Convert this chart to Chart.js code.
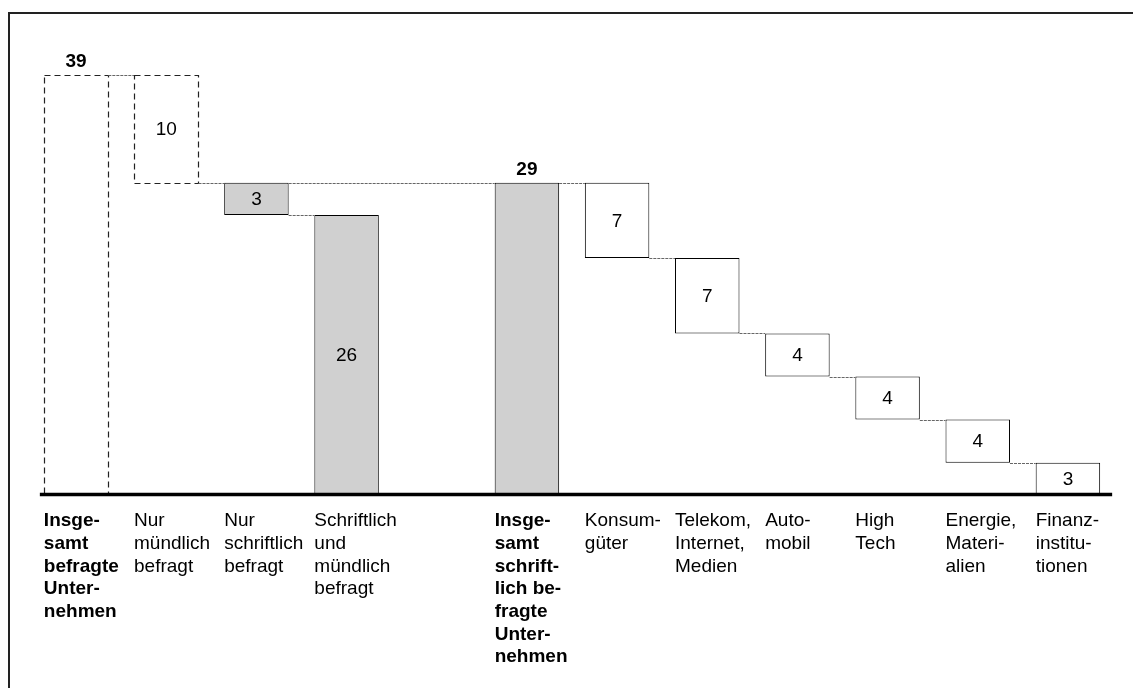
<!DOCTYPE html>
<html>
<head>
<meta charset="utf-8">
<script src="https://cdn.jsdelivr.net/npm/chart.js@4.4.1/dist/chart.umd.min.js"></script>
<style>
  html, body { margin: 0; padding: 0; background: #fff; }
  #wrap { position: relative; width: 1133px; height: 688px; overflow: hidden; }
  #frame { position: absolute; left: 8px; top: 12px; right: -10px; bottom: -10px;
           border-left: 2px solid #222; border-top: 2px solid #222; }
  canvas { position: absolute; left: 0; top: 0; }
</style>
</head>
<body>
<div id="wrap">
  <div id="frame"></div>
  <canvas id="c" width="1133" height="688"></canvas>
</div>
<script>
// Category labels (one entry per line of text)
const categories = [
  ["Insge-", "samt", "befragte", "Unter-", "nehmen"],
  ["Nur", "mündlich", "befragt"],
  ["Nur", "schriftlich", "befragt"],
  ["Schriftlich", "und", "mündlich", "befragt"],
  [],
  ["Insge-", "samt", "schrift-", "lich be-", "fragte", "Unter-", "nehmen"],
  ["Konsum-", "güter"],
  ["Telekom,", "Internet,", "Medien"],
  ["Auto-", "mobil"],
  ["High", "Tech"],
  ["Energie,", "Materi-", "alien"],
  ["Finanz-", "institu-", "tionen"]
];

// Number of companies per step
const values = [39, 10, 3, 26, null, 29, 7, 7, 4, 4, 4, 3];

// 'total' bars stand on the baseline, 'down' bars hang from the running level
const barKinds = ["total", "down", "down", "down", null, "total",
                  "down", "down", "down", "down", "down", "down"];

// Floating [low, high] ranges for the waterfall
let level = 0;
const ranges = values.map((v, i) => {
  if (v == null) return null;
  if (barKinds[i] === "total") { level = v; return [0, v]; }
  const r = [level - v, level];
  level -= v;
  return r;
});

const dashedBars = new Set([0, 1]);
const grayBars = new Set([2, 3, 5]);
const FONT = '"Liberation Sans", Arial, Helvetica, sans-serif';

function barBox(el) {
  const p = el.getProps(["x", "y", "base", "width"], true);
  return {
    left: p.x - p.width / 2, right: p.x + p.width / 2,
    top: Math.min(p.y, p.base), bottom: Math.max(p.y, p.base), cx: p.x, width: p.width
  };
}

const waterfallDecor = {
  id: "waterfallDecor",
  afterDatasetsDraw(chart) {
    const ctx = chart.ctx;
    const meta = chart.getDatasetMeta(0);
    const yScale = chart.scales.y;
    const xScale = chart.scales.x;
    const zero = yScale.getPixelForValue(0);
    const present = values.map((v, i) => v == null ? -1 : i).filter(i => i >= 0);
    const boxes = {};
    present.forEach(i => { boxes[i] = barBox(meta.data[i]); });
    const bw = boxes[present[0]].width;

    ctx.save();

    // dashed outlines
    ctx.strokeStyle = "#222";
    ctx.lineWidth = 1.2;
    ctx.setLineDash([6, 4]);
    dashedBars.forEach(i => {
      const b = boxes[i];
      ctx.strokeRect(Math.round(b.left) + 0.5, Math.round(b.top) + 0.5,
                     Math.round(b.right - b.left), Math.round(b.bottom - b.top));
    });

    // dotted connectors between bars
    ctx.strokeStyle = "#666";
    ctx.lineWidth = 1;
    ctx.setLineDash([3, 1]);
    const hline = (x0, x1, v) => {
      const yy = Math.round(yScale.getPixelForValue(v)) + 0.5;
      ctx.beginPath(); ctx.moveTo(x0, yy); ctx.lineTo(x1, yy); ctx.stroke();
    };
    for (let k = 0; k < present.length - 1; k++) {
      const a = present[k], b = present[k + 1];
      if (barKinds[b] === "total") continue;
      const lv = barKinds[a] === "total" ? ranges[a][1] : ranges[a][0];
      if (lv > 0) hline(boxes[a].right, boxes[b].left, lv);
    }
    present.forEach((i, k) => {
      if (k === 0 || barKinds[i] !== "total") return;
      for (let m = k - 1; m >= 0; m--) {
        const j = present[m];
        if (ranges[j][1] === values[i]) { hline(boxes[j].right, boxes[i].left, values[i]); break; }
      }
    });

    // baseline
    ctx.setLineDash([]);
    ctx.strokeStyle = "#000";
    ctx.lineWidth = 3.5;
    const first = boxes[present[0]], last = boxes[present[present.length - 1]];
    ctx.beginPath();
    ctx.moveTo(first.left - 4, zero - 0.5);
    ctx.lineTo(last.right + 12, zero - 0.5);
    ctx.stroke();

    // value labels
    ctx.fillStyle = "#000";
    ctx.textAlign = "center";
    ctx.textBaseline = "middle";
    present.forEach(i => {
      const b = boxes[i];
      const isTotal = barKinds[i] === "total";
      if (isTotal) {
        ctx.font = "bold 19px " + FONT;
        ctx.fillText(String(values[i]), b.cx, b.top - 13);
      } else {
        ctx.font = "19px " + FONT;
        ctx.fillText(String(values[i]), b.cx, (b.top + b.bottom) / 2 + 1);
      }
    });

    // category labels, left-aligned under each bar
    ctx.textAlign = "left";
    categories.forEach((lines, i) => {
      const left = xScale.getPixelForValue(i) - bw / 2;
      ctx.font = (barKinds[i] === "total" ? "bold " : "") + "19px " + FONT;
      lines.forEach((t, j) => ctx.fillText(t, left, zero + 26 + j * 22.7));
    });

    ctx.restore();
  }
};

new Chart(document.getElementById("c"), {
  type: "bar",
  data: {
    labels: categories.map(c => c.join(" ")),
    datasets: [{
      data: ranges,
      backgroundColor: c => dashedBars.has(c.dataIndex) ? "rgba(0,0,0,0)"
                          : grayBars.has(c.dataIndex) ? "#d0d0d0" : "#ffffff",
      borderColor: "#000",
      borderWidth: c => dashedBars.has(c.dataIndex) ? 0 : 1,
      borderSkipped: false,
      barPercentage: 0.715,
      categoryPercentage: 1
    }]
  },
  options: {
    responsive: false,
    animation: false,
    layout: { padding: { left: 31, right: 20, top: 75, bottom: 193 } },
    scales: {
      x: { display: false },
      y: { display: false, min: 0, max: 39 }
    },
    plugins: { legend: { display: false }, tooltip: { enabled: false } }
  },
  plugins: [waterfallDecor]
});
</script>
</body>
</html>
